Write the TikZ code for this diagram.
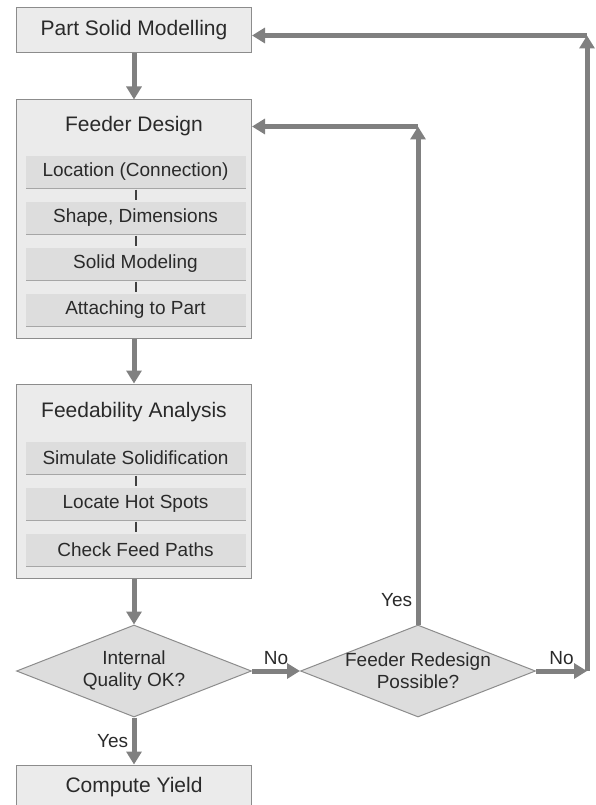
\documentclass[tikz,border=0pt]{standalone}
\usepackage{fontspec}
\setmainfont{Liberation Sans}
\usetikzlibrary{positioning,shapes.geometric,arrows.meta,shadows}
\definecolor{boxfill}{HTML}{EBEBEB}
\definecolor{boxline}{HTML}{8C8C8C}
\definecolor{subfill}{HTML}{DDDDDD}
\definecolor{subedge}{HTML}{A6A6A6}
\definecolor{flowgray}{HTML}{808080}
\definecolor{txtgray}{HTML}{2A2A2A}

\begin{document}
\begin{tikzpicture}[
  x=1pt, y=-1pt,
  node distance=46pt,
  every node/.style={font=\fontsize{19}{22}\selectfont, text=txtgray},
  title/.style={font=\fontsize{21}{25}\selectfont},
  stage/.style={draw=boxline, line width=1pt, fill=boxfill, minimum width=235pt, minimum height=45pt, font=\fontsize{21}{25}\selectfont},
  subbox/.style={fill=subfill, minimum width=220pt, minimum height=32pt, drop shadow={shadow xshift=0.8pt, shadow yshift=-1.3pt, opacity=1, fill=subedge}},
  decision/.style={diamond, aspect=2.55, draw=boxline, line width=1pt, fill=subfill, minimum width=235pt, minimum height=92pt, inner xsep=-10pt, inner ysep=0pt, align=center},
  flow/.style={draw=flowgray, line width=5pt, -{Triangle[length=13pt, width=15pt]}},
  link/.style={draw=black!75, line width=2pt, shorten <=1.5pt, shorten >=1.5pt}
]
\useasboundingbox (0,0) rectangle (595,805);

% main stages
\node[stage] (part) at (134,30.5) {Part Solid Modelling};
\node[stage, minimum height=238pt, below=of part] (feeder) {};
\node[title] (fdtitle) at ([yshift=-27pt]feeder.north) {Feeder Design};
\foreach \txt [count=\i] in {Location (Connection), {Shape, Dimensions}, Solid Modeling, Attaching to Part}
  \node[subbox] (fd\i) at ([xshift=1.5pt, yshift={-(26.5+46*\i)*1pt}]feeder.north) {\txt};
\foreach \i/\j in {1/2,2/3,3/4}
  \draw[link] (fd\i.south) -- (fd\j.north);

\node[stage, minimum height=194pt, below=45pt of feeder] (analysis) {};
\node[title] (fatitle) at ([yshift=-29pt]analysis.north) {Feedability Analysis};
\foreach \txt [count=\i] in {Simulate Solidification, Locate Hot Spots, Check Feed Paths}
  \node[subbox] (fa\i) at ([xshift=1.5pt, yshift={-(28.5+46*\i)*1pt}]analysis.north) {\txt};
\foreach \i/\j in {1/2,2/3}
  \draw[link] (fa\i.south) -- (fa\j.north);

% decisions
\node[decision, below=of analysis] (quality) {Internal\\Quality OK?};
\node[decision, right=48pt of quality] (redesign) {Feeder Redesign\\Possible?};
\node[stage, below=47pt of quality] (yield) {Compute Yield};

% loop corners
\coordinate (upper) at (redesign.north |- fdtitle);
\coordinate (turn) at ([xshift=51pt]redesign.east);
\coordinate (top) at ([yshift=-5pt]turn |- part.east);

% connectors
\draw[flow] (part) -- (feeder);
\draw[flow] (feeder) -- (analysis);
\draw[flow] (analysis) -- (quality);
\draw[flow] (quality) -- node[left] {Yes} (yield);
\draw[flow] (quality) -- node[above] {No} (redesign);
\draw[flow] (redesign) -- node[above] {No} (turn);
\draw[flow] (turn) -- (top);
\draw[flow] (top) -- (top -| part.east);
\draw[flow] (redesign) -- node[pos=0.05, left] {Yes} (upper);
\draw[flow] (upper) -- (upper -| feeder.east);
\end{tikzpicture}
\end{document}
